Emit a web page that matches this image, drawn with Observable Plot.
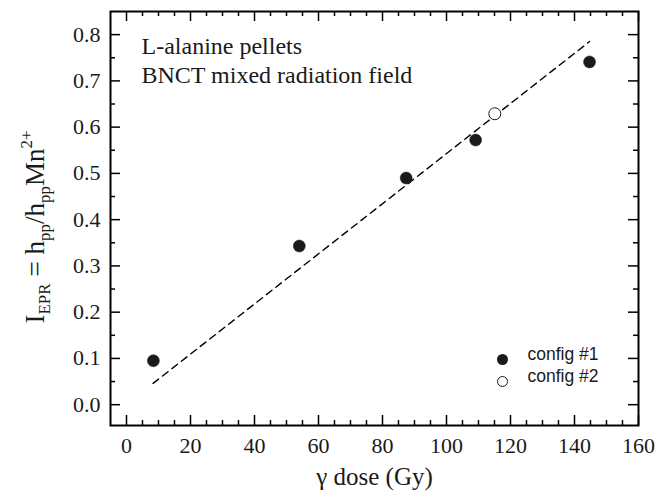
<!DOCTYPE html>
<html>
<head>
<meta charset="utf-8">
<script src="https://cdn.jsdelivr.net/npm/d3@7"></script>
<script src="https://cdn.jsdelivr.net/npm/@observablehq/plot@0.6"></script>
<style>
  html, body { margin: 0; padding: 0; background: #fff; }
</style>
</head>
<body>
<div id="chart"></div>
<script>
// Data
const doseConfig1 = [8.4, 54, 87.4, 109.1, 144.7];
const eprConfig1  = [0.095, 0.343, 0.490, 0.572, 0.741];
const doseConfig2 = [115.1];
const eprConfig2  = [0.629];
const fitDose = [8.3, 144.7];
const fitEpr  = [0.046, 0.785];

const xTicks = [0, 20, 40, 60, 80, 100, 120, 140, 160];
const yTicks = [0.0, 0.1, 0.2, 0.3, 0.4, 0.5, 0.6, 0.7, 0.8];
const xMinor = [5,10,15,25,30,35,45,50,55,65,70,75,85,90,95,105,110,115,125,130,135,145,150,155];
const yMinor = [0.05,0.15,0.25,0.35,0.45,0.55,0.65,0.75];

const legendLabels = ["config #1", "config #2"];
const annotation = "L-alanine pellets\nBNCT mixed radiation field";
const xTitle = "γ dose (Gy)";

const series1 = doseConfig1.map((d, i) => ({dose: d, epr: eprConfig1[i]}));
const series2 = doseConfig2.map((d, i) => ({dose: d, epr: eprConfig2[i]}));
const fit = fitDose.map((d, i) => ({dose: d, epr: fitEpr[i]}));

const W = 672, H = 495;
const mL = 110, mR = 34, mT = 11, mB = 70;
const fw = W - mL - mR, fh = H - mT - mB;
const major = 10, minor = 5;
const serif = "'Liberation Serif', 'Times New Roman', serif";
const sans = "'Liberation Sans', Arial, sans-serif";
const tickStyle = {stroke: "#000", strokeOpacity: 1, strokeWidth: 1.5};

const chart = Plot.plot({
  width: W, height: H,
  marginLeft: mL, marginRight: mR, marginTop: mT, marginBottom: mB,
  x: {domain: [-5, 160], axis: null},
  y: {domain: [-0.045, 0.85], axis: null},
  style: {fontFamily: serif, fontSize: "22px", color: "#1a1a1a", background: "#fff"},
  marks: [
    // inward ticks: bottom/top
    Plot.gridX(xTicks, {x: d => d, insetTop: fh - major, ...tickStyle}),
    Plot.gridX(xTicks, {x: d => d, insetBottom: fh - major, ...tickStyle}),
    Plot.gridX(xMinor, {x: d => d, insetTop: fh - minor, ...tickStyle}),
    Plot.gridX(xMinor, {x: d => d, insetBottom: fh - minor, ...tickStyle}),
    // inward ticks: left/right
    Plot.gridY(yTicks, {y: d => d, insetRight: fw - major, ...tickStyle}),
    Plot.gridY(yTicks, {y: d => d, insetLeft: fw - major, ...tickStyle}),
    Plot.gridY(yMinor, {y: d => d, insetRight: fw - minor, ...tickStyle}),
    Plot.gridY(yMinor, {y: d => d, insetLeft: fw - minor, ...tickStyle}),
    // tick labels (through the scales)
    Plot.text(xTicks, {x: d => d, text: d => String(d), frameAnchor: "bottom", lineAnchor: "top", dy: 12, fontSize: 22, fill: "#1a1a1a"}),
    Plot.text(yTicks, {y: d => d, text: d => d3.format(".1f")(d), frameAnchor: "left", textAnchor: "end", dx: -10, fontSize: 22, fill: "#1a1a1a"}),
    Plot.frame({stroke: "#000", strokeWidth: 2}),
    // fit line
    Plot.line(fit, {x: "dose", y: "epr", stroke: "#000", strokeWidth: 1.4, strokeDasharray: "7,5"}),
    // data
    Plot.dot(series1, {x: "dose", y: "epr", r: 6, fill: "#1a1a1a", stroke: "#1a1a1a", strokeWidth: 0.5}),
    Plot.dot(series2, {x: "dose", y: "epr", r: 6, fill: "#fff", stroke: "#1a1a1a", strokeWidth: 1}),
    // annotation
    Plot.text([annotation], {frameAnchor: "top-left", dx: 31, dy: 22, textAnchor: "start", lineAnchor: "top", lineHeight: 1.2, fontSize: 24, fill: "#1a1a1a"}),
    // legend
    Plot.dot([legendLabels[0]], {frameAnchor: "bottom-right", dx: -136, dy: -66, r: 5.5, fill: "#1a1a1a"}),
    Plot.dot([legendLabels[1]], {frameAnchor: "bottom-right", dx: -136, dy: -44, r: 5, fill: "#fff", stroke: "#1a1a1a", strokeWidth: 1}),
    Plot.text([legendLabels[0]], {frameAnchor: "bottom-right", dx: -111, dy: -66, textAnchor: "start", fontSize: 17.5, fill: "#1a1a1a"}),
    Plot.text([legendLabels[1]], {frameAnchor: "bottom-right", dx: -111, dy: -44, textAnchor: "start", fontSize: 17.5, fill: "#1a1a1a"}),
    // x title
    Plot.text([xTitle], {frameAnchor: "bottom", dy: 59, fontSize: 25, fill: "#1a1a1a"})
  ]
});

document.getElementById("chart").appendChild(chart);

const svg = d3.select(chart);
// force fonts: serif everywhere, sans for legend entries
svg.selectAll("text").each(function() {
  const isLegend = legendLabels.includes(this.textContent);
  d3.select(this).style("font-family", isLegend ? sans : serif);
});

// y-axis title with subscripts/superscripts
const t = svg.append("text")
  .attr("transform", `translate(44,${mT + fh / 2 + 9}) rotate(-90)`)
  .attr("text-anchor", "middle")
  .style("font-family", serif)
  .attr("font-size", 27)
  .attr("fill", "#1a1a1a");
const parts = [
  ["I", 0, 27], ["EPR", 6, 17], [" = h", -6, 27], ["pp", 6, 17], ["/h", -6, 27],
  ["pp", 6, 17], ["Mn", -6, 27], ["2+", -12, 17]
];
parts.forEach(([s, dy, fs]) => t.append("tspan").attr("dy", dy).attr("font-size", fs).text(s));
</script>
</body>
</html>
